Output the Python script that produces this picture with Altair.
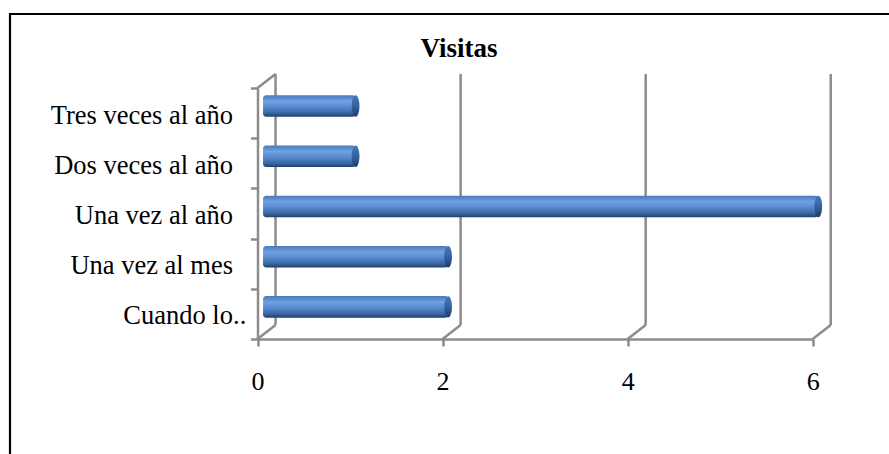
import altair as alt
import pandas as pd

# Survey answers: how often the place is visited
CATEGORIES = ["Tres veces al año", "Dos veces al año", "Una vez al año", "Una vez al mes", "Cuando lo.."]
COUNTS = [1, 1, 6, 2, 2]
TICK_VALUES = [0, 2, 4, 6]
TITLE = "Visitas"

FONT = "Liberation Serif"
GRID = "#8c8c8c"

# pseudo-3D depth of the walls and of the bar row, in data units
DEPTH_X, DEPTH_Y = 0.195, 0.28
BAR_DX, BAR_DY, BAR_HALF = 0.06, 0.14, 0.215

n = len(CATEGORIES)
rows = list(range(n - 1, -1, -1))  # first category sits on top

main, tail = [], []
for c in CATEGORIES:
    if c.endswith(".."):
        main.append(c[:-2])
        tail.append("..")
    else:
        main.append(c)
        tail.append("")

bars = pd.DataFrame({"cat": CATEGORIES, "value": COUNTS, "row": rows,
                     "main": main, "tail": tail})

# wall / floor outline segments
seg = []
for v in TICK_VALUES:
    seg.append((v + DEPTH_X, DEPTH_Y, v + DEPTH_X, n + DEPTH_Y))
    seg.append((v, 0, v + DEPTH_X, DEPTH_Y))
seg.append((0, n, DEPTH_X, n + DEPTH_Y))
walls = pd.DataFrame(seg, columns=["xa", "ya", "xb", "yb"])

XS = alt.Scale(domain=[0, 6], range=[257.5, 812.7], nice=False, zero=False)
YS = alt.Scale(domain=[0, n], range=[339, 88], nice=False, zero=False)
X_AXIS = alt.Axis(values=TICK_VALUES, offset=-115, title=None, grid=False,
                  domainColor=GRID, domainWidth=2.5, tickColor=GRID, tickWidth=2.5,
                  tickSize=7, labelFont=FONT, labelFontSize=26, labelColor="black",
                  labelPadding=22, labelFlush=False)
Y_AXIS = alt.Axis(values=list(range(n + 1)), offset=-257.5, title=None, grid=False,
                  labels=False, domainColor=GRID, domainWidth=2.5, tickColor=GRID,
                  tickWidth=2.5, tickSize=7)

frame = alt.Chart(pd.DataFrame({"k": [0]})).mark_rect(
    fillOpacity=0, stroke="black", strokeWidth=2.2
).encode(x=alt.value(10), x2=alt.value(1200), y=alt.value(14), y2=alt.value(1200))

heading = alt.Chart(pd.DataFrame({"t": [TITLE]})).mark_text(
    align="center", baseline="alphabetic", font=FONT, fontSize=27,
    fontWeight="bold", color="black",
).encode(x=alt.value(459), y=alt.value(57), text="t:N")

wall_lines = alt.Chart(walls).mark_rule(color=GRID, strokeWidth=2.5).encode(
    x=alt.X("xa:Q", scale=XS, axis=X_AXIS),
    x2="xb:Q",
    y=alt.Y("ya:Q", scale=YS, axis=Y_AXIS),
    y2="yb:Q",
)

body_fill = alt.LinearGradient(
    gradient="linear", x1=0, y1=0, x2=0, y2=1,
    stops=[
        alt.GradientStop(color="#4a78b8", offset=0.0),
        alt.GradientStop(color="#6fa1e3", offset=0.28),
        alt.GradientStop(color="#5689cf", offset=0.55),
        alt.GradientStop(color="#3a66a4", offset=0.82),
        alt.GradientStop(color="#223d68", offset=1.0),
    ],
)
cap_fill = alt.LinearGradient(
    gradient="linear", x1=0, y1=0, x2=0, y2=1,
    stops=[
        alt.GradientStop(color="#4677b6", offset=0.0),
        alt.GradientStop(color="#3563a2", offset=0.5),
        alt.GradientStop(color="#1f3a64", offset=1.0),
    ],
)

base = alt.Chart(bars).transform_calculate(
    x0=f"{BAR_DX}",
    x1=f"datum.value + {BAR_DX}",
    yc=f"datum.row + 0.5 + {BAR_DY}",
    ylo=f"datum.row + 0.5 + {BAR_DY} - {BAR_HALF}",
    yhi=f"datum.row + 0.5 + {BAR_DY} + {BAR_HALF}",
    ylab="datum.row + 0.5",
)

body = base.mark_bar(color=body_fill, cornerRadius=3).encode(
    x=alt.X("x0:Q", scale=XS, axis=X_AXIS),
    x2="x1:Q",
    y=alt.Y("ylo:Q", scale=YS, axis=Y_AXIS),
    y2="yhi:Q",
)

cap = base.mark_point(
    shape="M0,-1A0.36,1,0,1,1,0,1A0.36,1,0,1,1,0,-1Z",
    filled=True, fill=cap_fill, opacity=1, size=462, strokeWidth=0,
).encode(
    x=alt.X("x1:Q", scale=XS, axis=X_AXIS),
    y=alt.Y("yc:Q", scale=YS, axis=Y_AXIS),
)

labels = base.mark_text(
    align="right", baseline="alphabetic", dx=-24.5, dy=10.5,
    font=FONT, fontSize=26.5, color="black",
).encode(
    x=alt.X(datum=0, scale=XS, axis=X_AXIS),
    y=alt.Y("ylab:Q", scale=YS, axis=Y_AXIS),
    text="main:N",
)

label_tails = base.mark_text(
    align="left", baseline="alphabetic", dx=-24.5, dy=10.5,
    font=FONT, fontSize=26.5, color="black",
).encode(
    x=alt.X(datum=0, scale=XS, axis=X_AXIS),
    y=alt.Y("ylab:Q", scale=YS, axis=Y_AXIS),
    text="tail:N",
)

chart = alt.layer(frame, heading, wall_lines, body, cap, labels, label_tails).properties(
    width=889, height=454, padding=0,
    autosize=alt.AutoSizeParams(type="none"),
    background="white",
).configure_view(stroke=None)

chart.save("out.html", embed_options={"renderer": "svg", "actions": False})
